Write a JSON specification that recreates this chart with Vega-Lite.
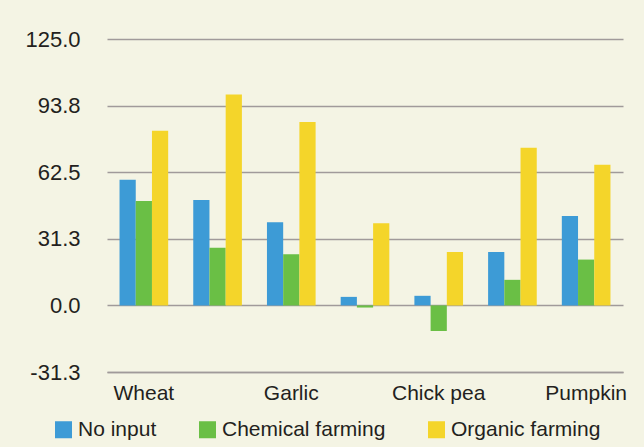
{
  "$schema": "https://vega.github.io/schema/vega-lite/v6.json",
  "width": 516,
  "height": 333,
  "autosize": "none",
  "padding": {"left": 107, "top": 39, "right": 21, "bottom": 75},
  "background": "#F4F4E4",
  "config": {
    "view": {"stroke": null},
    "font": "Liberation Sans",
    "axis": {"labelFont": "Liberation Sans", "labelColor": "#231F20"},
    "legend": {"labelFont": "Liberation Sans", "labelColor": "#231F20"}
  },
  "data": {
    "values": [
      {"crop": "Wheat", "treatment": "No input", "value": 59},
      {"crop": "Wheat", "treatment": "Chemical farming", "value": 49},
      {"crop": "Wheat", "treatment": "Organic farming", "value": 82},
      {"crop": "Crop 2", "treatment": "No input", "value": 49.5},
      {"crop": "Crop 2", "treatment": "Chemical farming", "value": 27},
      {"crop": "Crop 2", "treatment": "Organic farming", "value": 99},
      {"crop": "Garlic", "treatment": "No input", "value": 39},
      {"crop": "Garlic", "treatment": "Chemical farming", "value": 24},
      {"crop": "Garlic", "treatment": "Organic farming", "value": 86},
      {"crop": "Crop 4", "treatment": "No input", "value": 4},
      {"crop": "Crop 4", "treatment": "Chemical farming", "value": -1},
      {"crop": "Crop 4", "treatment": "Organic farming", "value": 38.5},
      {"crop": "Chick pea", "treatment": "No input", "value": 4.5},
      {"crop": "Chick pea", "treatment": "Chemical farming", "value": -12},
      {"crop": "Chick pea", "treatment": "Organic farming", "value": 25},
      {"crop": "Crop 6", "treatment": "No input", "value": 25},
      {"crop": "Crop 6", "treatment": "Chemical farming", "value": 12},
      {"crop": "Crop 6", "treatment": "Organic farming", "value": 74},
      {"crop": "Pumpkin", "treatment": "No input", "value": 42},
      {"crop": "Pumpkin", "treatment": "Chemical farming", "value": 21.5},
      {"crop": "Pumpkin", "treatment": "Organic farming", "value": 66}
    ]
  },
  "mark": {"type": "bar"},
  "encoding": {
    "x": {
      "field": "crop",
      "type": "nominal",
      "sort": null,
      "scale": {"paddingInner": 0.34, "paddingOuter": 0.17},
      "axis": {
        "title": null,
        "labelAngle": 0,
        "labelFontSize": 21,
        "labelPadding": 10,
        "labelOverlap": "parity",
        "labelSeparation": 20,
        "ticks": false,
        "domainColor": "#A09A9A",
        "domainWidth": 1.5,
        "labelBound": false
      }
    },
    "xOffset": {
      "field": "treatment",
      "type": "nominal",
      "sort": ["No input", "Chemical farming", "Organic farming"]
    },
    "y": {
      "field": "value",
      "type": "quantitative",
      "scale": {"domain": [-31.25, 125], "nice": false, "zero": false},
      "axis": {
        "title": null,
        "values": [-31.25, 0, 31.25, 62.5, 93.75, 125],
        "labelExpr": "datum.value < 0 ? '-' + format(-datum.value, '.1f') : format(datum.value, '.1f')",
        "labelFontSize": 22,
        "labelPadding": 27,
        "ticks": false,
        "domain": false,
        "gridColor": "#A09A9A",
        "gridWidth": 1.5,
        "gridOpacity": 1
      }
    },
    "color": {
      "field": "treatment",
      "type": "nominal",
      "sort": ["No input", "Chemical farming", "Organic farming"],
      "scale": {
        "domain": ["No input", "Chemical farming", "Organic farming"],
        "range": ["#3D9BD6", "#6ABF45", "#F4D52A"]
      },
      "legend": {
        "title": null,
        "orient": "none",
        "legendX": -54,
        "legendY": 380,
        "direction": "horizontal",
        "symbolType": "square",
        "symbolSize": 289,
        "symbolStrokeWidth": 0,
        "symbolOpacity": 1,
        "labelFontSize": 21,
        "labelLimit": 300,
        "columnPadding": 40,
        "symbolOffset": 0,
        "labelOffset": 4
      }
    }
  }
}
